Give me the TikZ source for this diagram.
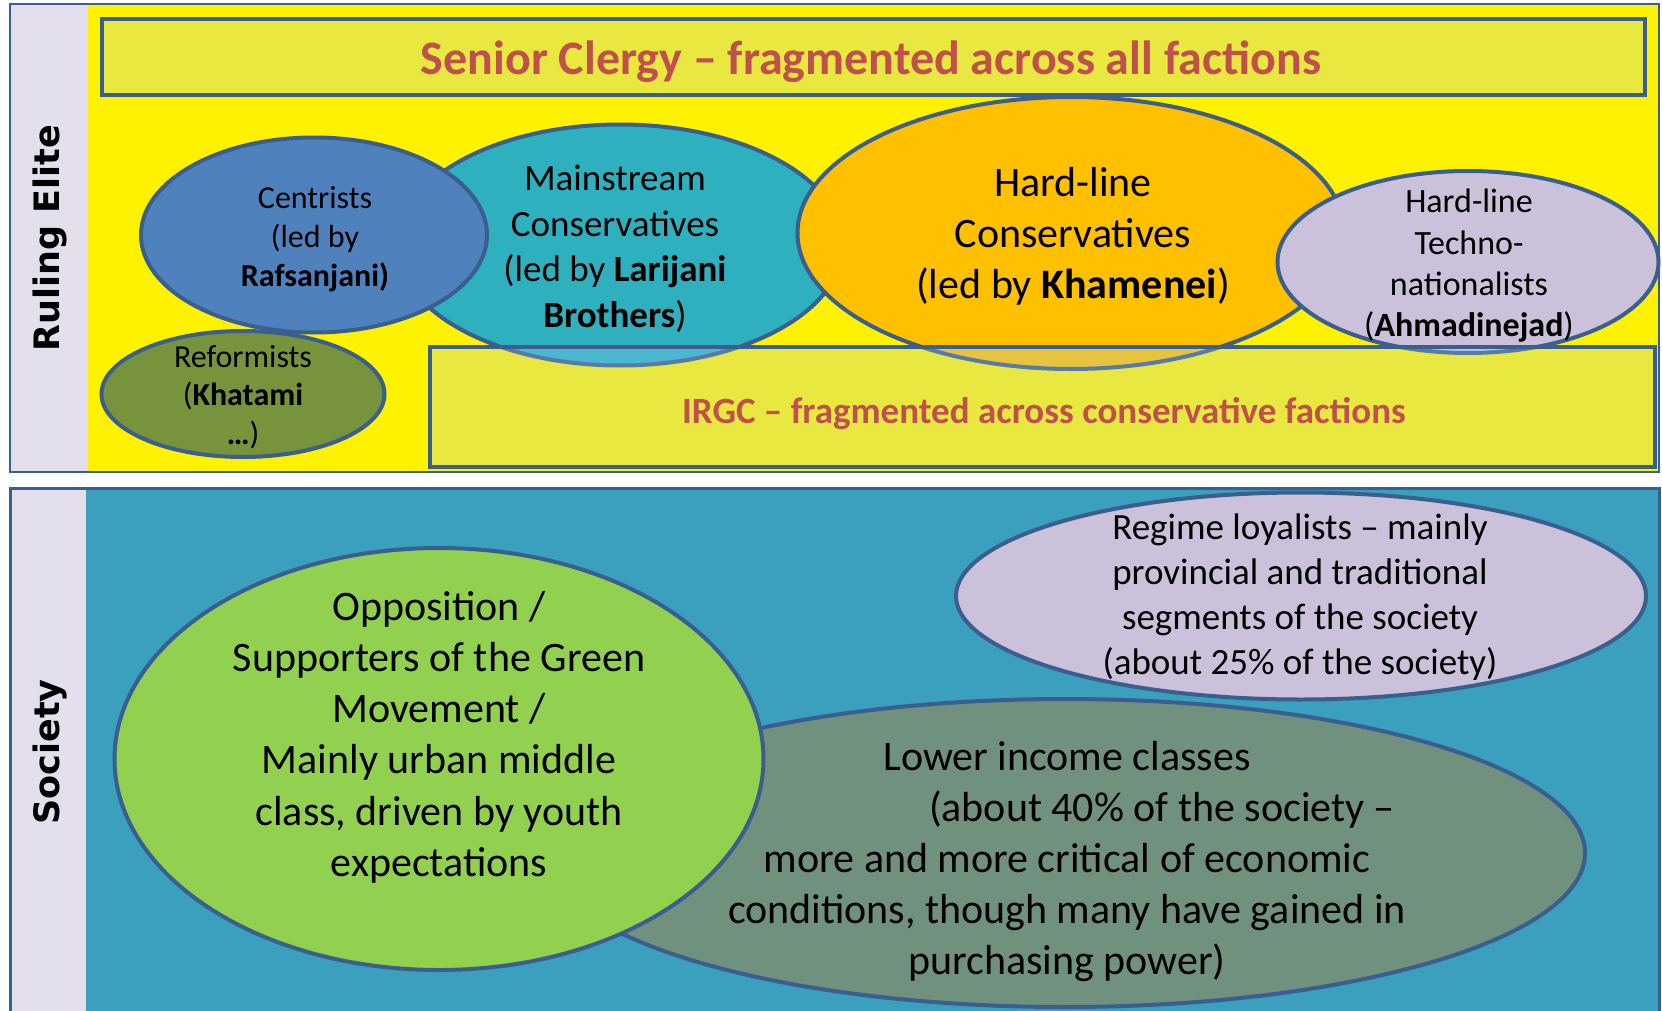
\documentclass[tikz,border=0pt]{standalone}
\usepackage{fontspec}
\setmainfont{Carlito}
\newfontfamily\sidefont{DejaVu Sans}
\usetikzlibrary{shapes.geometric}
\definecolor{edge}{HTML}{3A5F8F}
\definecolor{lilac}{HTML}{E4DFEC}
\definecolor{veil}{HTML}{A6CDFF}
\definecolor{clergyred}{HTML}{C0504D}
\definecolor{centrist}{HTML}{4F81BD}
\definecolor{reformist}{HTML}{77933C}
\definecolor{mainstream}{HTML}{2EB0BE}
\definecolor{hardline}{HTML}{FFC000}
\definecolor{techno}{HTML}{CCC1DA}
\definecolor{sea}{HTML}{3BA0BE}
\definecolor{opposition}{HTML}{92D050}
\definecolor{lowerinc}{HTML}{6F917E}
\newcommand\sizeto[2]{\fontsize{#1}{#2}\selectfont}

\begin{document}
\begin{tikzpicture}[x=1pt, y=-1pt,
  party/.style={ellipse, draw=edge, line width=4pt, inner sep=0pt},
  band/.style={rectangle, draw=edge, line width=4.2pt, fill=veil, fill opacity=0.25, inner sep=0pt},
  say/.style={align=center, inner sep=0pt},
  banner/.style={inner sep=0pt, text=clergyred}]
\clip (0,0) rectangle (1662,1011);

% ruling elite frame
\fill[lilac] (10,4) rectangle (88,472);
\fill[yellow] (88,4) rectangle (1659,472);
\draw[edge, line width=2.5pt] (10,4) rectangle (1659,472);
\node[rotate=90, font=\sidefont\bfseries\sizeto{35}{42}] (elite) at (50,238) {Ruling Elite};

\node[band, minimum width=1543, minimum height=76] (clergy) at (873.5,57) {};
\node[banner, font=\bfseries\sizeto{48}{58}] (clergy-txt) at (871,62)
  {Senior Clergy -- fragmented across all factions};

% factions
\node[party, fill=mainstream, minimum width=446, minimum height=241] (mainstream) at (620,245) {};
\node[party, fill=centrist, minimum width=346, minimum height=195] (centrists) at (314,235) {};
\node[party, fill=hardline, minimum width=547, minimum height=272] (hardline) at (1071,233) {};
\node[party, fill=techno, minimum width=381, minimum height=182] (techno) at (1468,262) {};
\node[party, fill=reformist, minimum width=283, minimum height=126] (reformists) at (243,394) {};

\node[band, minimum width=1225, minimum height=120] (irgc) at (1042.5,407) {};
\node[banner, font=\bfseries\sizeto{37}{44}] (irgc-txt) at (1044,414)
  {IRGC -- fragmented across conservative factions};

\node[say, font=\sizeto{32}{39}] (centrists-txt) at (315,239)
  {Centrists\\(led by\\\textbf{Rafsanjani)}};
\node[say, font=\sizeto{37}{45.5}] (mainstream-txt) at (615,249)
  {Mainstream\\Conservatives\\(led by \textbf{Larijani}\\\textbf{Brothers})};
\node[say, font=\sizeto{42}{51}] (hardline-txt) at (1073,236)
  {Hard-line\\Conservatives\\(led by \textbf{Khamenei})};
\node[say, font=\sizeto{34}{41.3}] (techno-txt) at (1469,266)
  {Hard-line\\Techno-\\nationalists\\(\textbf{Ahmadinejad})};
\node[say, font=\sizeto{32}{38.5}] (reformists-txt) at (243,397)
  {Reformists\\(\textbf{Khatami}\\\textbf{\dots})};

% society frame
\fill[lilac] (10,488) rectangle (86,1030);
\fill[sea] (86,488) rectangle (1659,1030);
\draw[edge, line width=3pt] (10,488) rectangle (1659,1030);
\node[rotate=90, font=\sidefont\bfseries\sizeto{35}{42}] (society) at (50,752) {Society};

\node[party, fill=lowerinc, minimum width=1040, minimum height=308] (lower) at (1065,853) {};
\node[party, fill=techno, minimum width=690, minimum height=207] (loyalists) at (1301,596) {};
\node[party, fill=opposition, minimum width=649, minimum height=422] (opposition) at (439,759) {};

\node[say, font=\sizeto{42}{51}] (lower-txt) at (1067,861.5)
  {Lower income classes\\\hspace*{190pt}(about 40\% of the society --\\more and more critical of economic\\conditions, though many have gained in\\purchasing power)};
\node[say, font=\sizeto{37}{45}] (loyalists-txt) at (1300,597.5)
  {Regime loyalists -- mainly\\provincial and traditional\\segments of the society\\(about 25\% of the society)};
\node[say, font=\sizeto{42}{51.2}] (opposition-txt) at (439,737)
  {Opposition /\\Supporters of the Green\\Movement /\\Mainly urban middle\\class, driven by youth\\expectations};
\end{tikzpicture}
\end{document}
